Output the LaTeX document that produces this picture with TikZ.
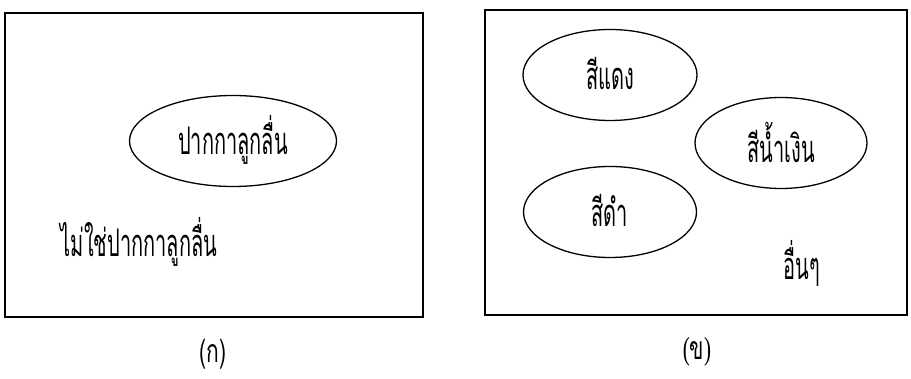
\documentclass[tikz,border=0pt]{standalone}
\usepackage{fontspec}
\usepackage{graphicx}
\newfontfamily\thaifont[Script=Thai]{Loma}
\newfontfamily\parenfont{Liberation Serif}
\newcommand{\tallthai}[1]{\scalebox{1}[1.9]{\thaifont #1}}
\newcommand{\captall}[1]{\scalebox{1.05}[1.6]{#1}}
\usetikzlibrary{shapes.geometric}
\begin{document}
\begin{tikzpicture}[x=1pt,y=-1pt,
  frame/.style={draw,line width=2.4pt},
  set/.style={draw,ellipse,line width=1.3pt,inner sep=0pt},
  lab/.style={font=\thaifont\fontsize{20}{22}\selectfont},
  captext/.style={font=\thaifont\fontsize{20}{24}\selectfont}]
\useasboundingbox (0,0) rectangle (911,379);
% left diagram
\node[frame,minimum width=418pt,minimum height=304pt,inner sep=0pt] (boxA) at (214,165) {};
\node[set,minimum width=207pt,minimum height=91pt] (pen) at (233,141) {};
\node[lab] (penT) at ([yshift=1pt]pen.center) {\tallthai{ปากกาลูกลื่น}};
\node[lab] (notpen) at (139,242) {\tallthai{ไม่ใช่ปากกาลูกลื่น}};
\node[captext] (capA) at (213,354) {\captall{(ก)}};
% right diagram
\node[frame,minimum width=422pt,minimum height=305pt,inner sep=0pt] (boxB) at (696,162.5) {};
\node[set,minimum width=174pt,minimum height=91pt] (red) at (610,75) {};
\node[lab] (redT) at ([yshift=1pt]red.center) {\tallthai{สีแดง}};
\node[set,minimum width=172pt,minimum height=91pt] (blue) at (781,143) {};
\node[lab] (blueT) at ([yshift=1pt]blue.center) {\tallthai{สีน้ำเงิน}};
\node[set,minimum width=173pt,minimum height=91pt] (black) at (610,212) {};
\node[lab] (blackT) at ([yshift=1pt]black.center) {\tallthai{สีดำ}};
\node[lab] (other) at (802,263) {\tallthai{อื่นๆ}};
\node[captext] (capB) at (697,352) {\captall{{\parenfont(}ข{\parenfont)}}};
\end{tikzpicture}
\end{document}
